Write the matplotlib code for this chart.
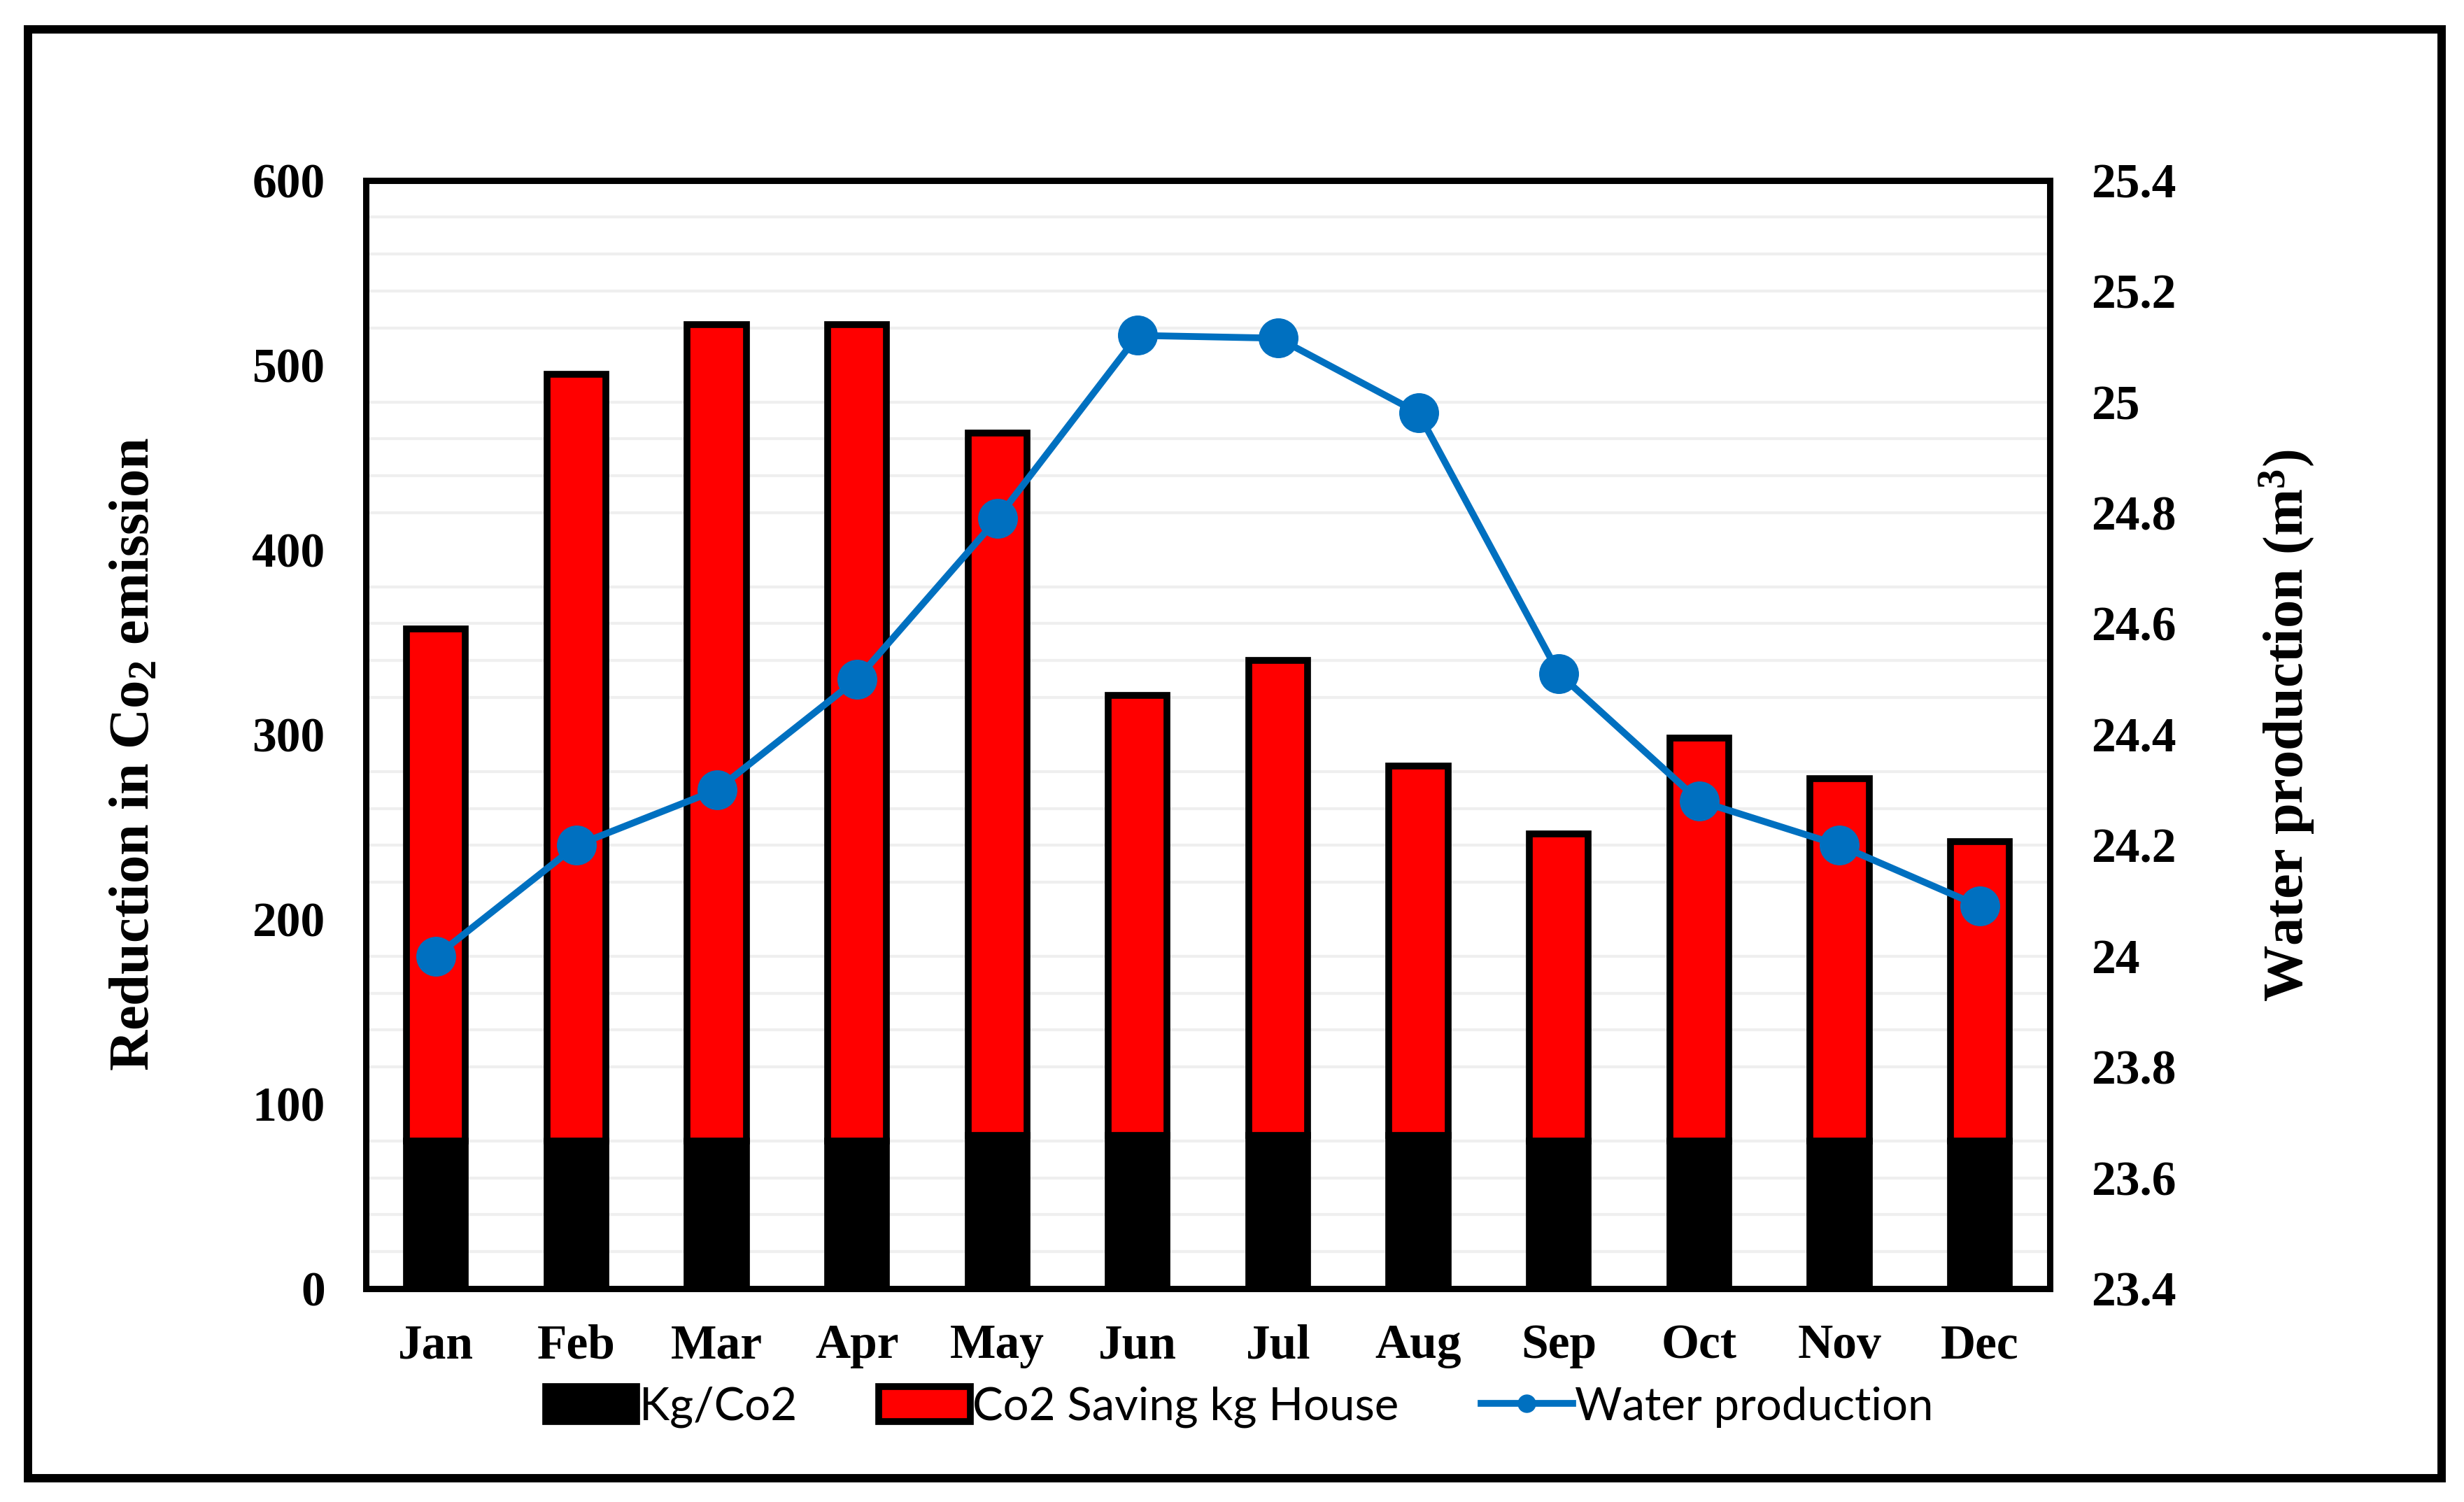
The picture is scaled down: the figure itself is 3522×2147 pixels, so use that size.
import numpy as np
import matplotlib
matplotlib.use("Agg")
import matplotlib.pyplot as plt
from matplotlib.patches import Rectangle

# data
months = ['Jan', 'Feb', 'Mar', 'Apr', 'May', 'Jun', 'Jul', 'Aug', 'Sep', 'Oct', 'Nov', 'Dec']
kg_co2 = [80, 80, 80, 80, 83, 83, 83, 83, 80, 80, 80, 80]
co2_total = [357, 495, 522, 522, 463, 321, 340, 283, 246, 298, 276, 242]
co2_saving = [t - k for t, k in zip(co2_total, kg_co2)]
water = [24.0, 24.2, 24.3, 24.5, 24.79, 25.12, 25.115, 24.98, 24.51, 24.28, 24.2, 24.09]

left_ticks = [0, 100, 200, 300, 400, 500, 600]
right_ticks = [23.4, 23.6, 23.8, 24.0, 24.2, 24.4, 24.6, 24.8, 25.0, 25.2, 25.4]
right_labels = ['23.4', '23.6', '23.8', '24', '24.2', '24.4', '24.6', '24.8', '25', '25.2', '25.4']

serif = ['Liberation Serif', 'DejaVu Serif']
plt.rcParams['mathtext.fontset'] = 'custom'
plt.rcParams['mathtext.rm'] = 'Liberation Serif:bold'
plt.rcParams['mathtext.it'] = 'Liberation Serif:bold'
plt.rcParams['mathtext.bf'] = 'Liberation Serif:bold'

fig = plt.figure(figsize=(35.22, 21.47), dpi=100)
ax = fig.add_axes([0.1485, 0.142, 0.6835, 0.738])

x = np.arange(len(months))
w = 0.42
b1 = ax.bar(x, kg_co2, w, color='black', edgecolor='black', linewidth=7, zorder=3, label='Kg/Co2')
b2 = ax.bar(x, co2_saving, w, bottom=kg_co2, color='#ff0000', edgecolor='black', linewidth=7,
            zorder=3, label='Co2 Saving kg House')

ax.set_xlim(-0.5, len(months) - 0.5)
ax.set_ylim(0, 600)
ax.set_yticks(left_ticks)
ax.set_yticklabels([str(v) for v in left_ticks])
ax.set_xticks(x)
ax.set_xticklabels(months)

# faint gridlines every 20, none on the 100s
for g in range(20, 600, 20):
    if g % 100 != 0:
        ax.axhline(g, color='#efefef', linewidth=3, zorder=1)

ax.tick_params(axis='y', length=0, pad=42, labelsize=50)
ax.tick_params(axis='x', length=0, pad=36, labelsize=50)
for lab in ax.get_xticklabels() + ax.get_yticklabels():
    lab.set_fontfamily(serif)
    lab.set_fontweight('bold')

for s in ax.spines.values():
    s.set_linewidth(6.5)
    s.set_color('black')

ax2 = ax.twinx()
ln, = ax2.plot(x, water, color='#0070c0', linewidth=7, marker='o', markersize=40,
               zorder=5, label='Water production')
ax2.set_ylim(23.4, 25.4)
ax2.set_yticks(right_ticks)
ax2.set_yticklabels(right_labels)
ax2.tick_params(axis='y', length=0, pad=42, labelsize=50)
for lab in ax2.get_yticklabels():
    lab.set_fontfamily(serif)
    lab.set_fontweight('bold')
for s in ax2.spines.values():
    s.set_visible(False)

fig.text(0.0548, 0.498, 'Reduction in Co$_2$ emission', rotation=90, ha='center', va='center',
         fontsize=58, fontweight='bold', family=serif)
fig.text(0.928, 0.517, 'Water production (m$^3$)', rotation=90, ha='center', va='center',
         fontsize=58, fontweight='bold', family=serif)

leg = fig.legend(handles=[b1, b2, ln], loc='center', bbox_to_anchor=(0.503, 0.063), ncol=3,
                 frameon=False, handlelength=2.0, handleheight=0.8, handletextpad=0.05,
                 columnspacing=1.8, markerscale=0.45,
                 prop={'family': ['Lato', 'Liberation Sans'], 'size': 47})

# outer frame around the whole figure
fig.patches.append(Rectangle((40 / 3522, 1 - 2113 / 2147), 3450 / 3522, 2071 / 2147,
                             transform=fig.transFigure, fill=False, edgecolor='black',
                             linewidth=8.6))

fig.savefig('out.png', dpi=100)
